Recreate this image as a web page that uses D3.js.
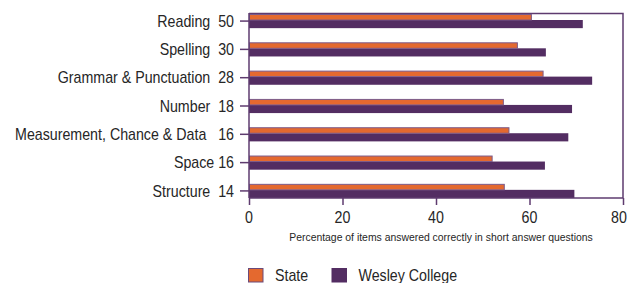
<!DOCTYPE html>
<html>
<head>
<meta charset="utf-8">
<script src="https://cdn.jsdelivr.net/npm/d3@7"></script>
<style>
  body { margin: 0; background: #fff; }
  text { font-family: "Liberation Sans", Arial, sans-serif; fill: #262626; }
</style>
</head>
<body>
<svg id="chart" width="629" height="283"></svg>
<script>
var categories = ['Reading', 'Spelling', 'Grammar & Punctuation', 'Number',
                  'Measurement, Chance & Data', 'Space', 'Structure'];
var labels = ['Reading  50', 'Spelling  30', 'Grammar & Punctuation  28', 'Number  18',
              'Measurement, Chance & Data   16', 'Space 16', 'Structure  14'];
var stateValues = [60.3, 57.3, 62.8, 54.3, 55.5, 51.9, 54.5];
var wesleyValues = [71.4, 63.5, 73.4, 69.1, 68.3, 63.3, 69.6];
var xTicks = [0, 20, 40, 60, 80];
var seriesNames = ['State', 'Wesley College'];

var orange = '#e4692f', purple = '#532d62', line = '#5e3b6f';

var svg = d3.select('#chart'),
    x = d3.scaleLinear().domain([0, 80]).range([249, 623]),
    y = d3.scaleBand().domain(categories).range([14, 198]).paddingInner(0.5).paddingOuter(0),
    sx = 0.89;

// frame
svg.append('path')
    .attr('d', 'M' + x(0) + ',13.5H' + x(80) + 'V198')
    .attr('fill', 'none').attr('stroke', line).attr('stroke-width', 1.5);

// bars
svg.selectAll('rect.wes')
    .data(wesleyValues)
  .enter().append('rect')
    .attr('x', x(0))
    .attr('y', function(d, i) { return y(categories[i]) + 6; })
    .attr('width', function(d) { return x(d) - x(0); })
    .attr('height', y.bandwidth() - 6)
    .attr('fill', purple);

svg.selectAll('rect.state')
    .data(stateValues)
  .enter().append('rect')
    .attr('x', x(0) + 0.5)
    .attr('y', function(d, i) { return y(categories[i]) + 0.5; })
    .attr('width', function(d) { return x(d) - x(0); })
    .attr('height', 5.5)
    .attr('fill', orange)
    .attr('stroke', '#7b5b8b').attr('stroke-width', 1);

// left axis
var left = svg.append('g').attr('transform', 'translate(' + x(0) + ',0)')
    .call(d3.axisLeft(y).tickSize(9).tickFormat(''));
left.select('.domain').attr('d', 'M0,13V198').attr('stroke', line).attr('stroke-width', 1.5);
left.selectAll('.tick line').attr('stroke', line).attr('stroke-width', 1.5);

labels.forEach(function(t, i) {
  svg.append('text')
      .attr('transform', 'translate(234,' + (y(categories[i]) + y.bandwidth() / 2 + 5.7) + ') scale(' + sx + ',1)')
      .attr('text-anchor', 'end')
      .style('white-space', 'pre')
      .attr('font-size', 16)
      .text(t);
});

// bottom axis
var bottom = svg.append('g').attr('transform', 'translate(0,198)')
    .call(d3.axisBottom(x).tickValues(xTicks).tickSize(7).tickFormat(''));
bottom.select('.domain').attr('d', 'M' + x(0) + ',0H' + x(80)).attr('stroke', line).attr('stroke-width', 1.5);
bottom.selectAll('.tick line').attr('stroke', line).attr('stroke-width', 1.5);

xTicks.forEach(function(v) {
  svg.append('text')
      .attr('transform', 'translate(' + Math.min(x(v), 619) + ',223.3) scale(' + sx + ',1)')
      .attr('text-anchor', 'middle')
      .attr('font-size', 16)
      .text(v);
});

svg.append('text')
    .attr('transform', 'translate(441,240.5) scale(' + sx + ',1)')
    .attr('text-anchor', 'middle')
    .attr('font-size', 11.7)
    .text('Percentage of items answered correctly in short answer questions');

// legend
var legendX = [248.5, 332];
seriesNames.forEach(function(n, i) {
  svg.append('rect')
      .attr('x', legendX[i]).attr('y', 268.5)
      .attr('width', 14.5).attr('height', 13.5)
      .attr('fill', i === 0 ? orange : purple)
      .attr('stroke', i === 0 ? '#6b4a7a' : purple).attr('stroke-width', 1);
  svg.append('text')
      .attr('transform', 'translate(' + (legendX[i] + 26.5) + ',280.5) scale(' + sx + ',1)')
      .attr('font-size', 16)
      .text(n);
});
</script>
</body>
</html>
